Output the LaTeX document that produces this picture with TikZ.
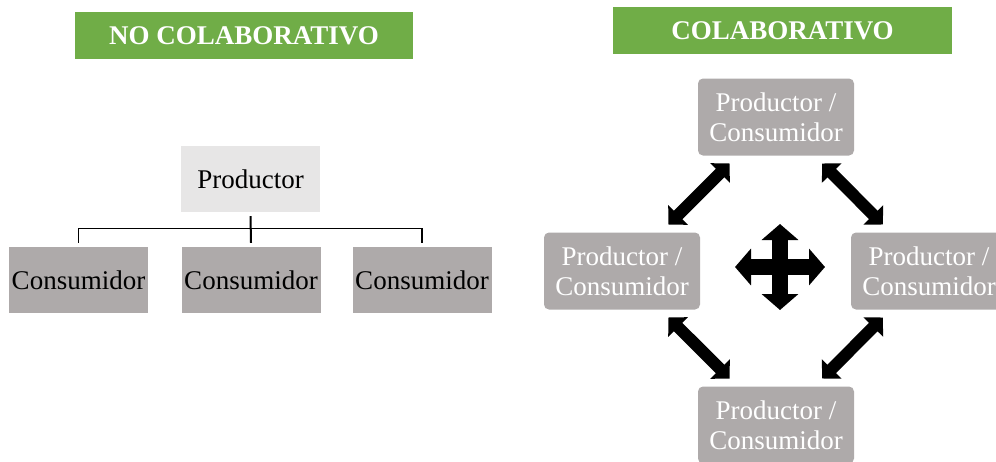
\documentclass[tikz,border=0pt]{standalone}
\usepackage{fontspec}
\setmainfont{Liberation Serif}
\usepackage{tikz}
\usetikzlibrary{arrows.meta,positioning}
\definecolor{verde}{HTML}{70AD47}
\definecolor{grisclaro}{HTML}{E7E6E6}
\definecolor{grisoscuro}{HTML}{AEAAAA}

\begin{document}
\begin{tikzpicture}[x=1pt,y=-1pt,
	titulo/.style={fill=verde, text=white, font=\fontsize{27}{30}\selectfont\bfseries, minimum height=47pt, inner sep=0pt},
	caja/.style={fill=grisoscuro, minimum width=139pt, minimum height=66pt, inner sep=0pt, font=\fontsize{27}{30}\selectfont},
	pc/.style={fill=grisoscuro, rounded corners=5pt, text=white, minimum width=156pt, minimum height=77pt, inner sep=0pt, align=center, font=\fontsize{27}{30}\selectfont},
	flecha/.style={line width=12pt, {Triangle[length=13.5pt,width=27pt]}-{Triangle[length=13.5pt,width=27pt]}, shorten <=11pt, shorten >=11pt},
	cruz/.style={line width=16pt, {Triangle[length=16pt,width=36pt]}-{Triangle[length=16pt,width=36pt]}}]
	\useasboundingbox (0,0) rectangle (996,461);

	% no colaborativo
	\node[titulo, minimum width=338pt] (hno) at (244,35.5) {NO COLABORATIVO};
	\node[caja, fill=grisclaro] (prod) at (250.5,179) {Productor};
	\node[caja] (c1) at (78.5,280) {Consumidor};
	\node[caja] (c2) at (251,280) {Consumidor};
	\node[caja] (c3) at (422,280) {Consumidor};
	\draw[line width=1.2pt] ([yshift=4pt]c1.north) |- ([yshift=18pt]c2.north) -| ([yshift=4pt]c3.north);
	\draw[line width=2pt] ([yshift=-4pt]prod.south) -- ([yshift=4pt]c2.north);

	% colaborativo
	\node[titulo, minimum width=339pt] (hcol) at (782.5,30.5) {COLABORATIVO};
	\node[pc] (pt) at (776,117) {Productor /\\Consumidor};
	\node[pc] (pl) at (622,271) {Productor /\\Consumidor};
	\node[pc] (pr) at (929,271) {Productor /\\Consumidor};
	\node[pc] (pb) at (776,425) {Productor /\\Consumidor};
	\draw[flecha] (pl) -- (pt);
	\draw[flecha] (pt) -- (pr);
	\draw[flecha] (pl) -- (pb);
	\draw[flecha] (pr) -- (pb);

	\coordinate (mid) at (780,267);
	\draw[cruz] ([xshift=-45pt]mid) -- ([xshift=45pt]mid);
	\draw[cruz] ([yshift=43pt]mid) -- ([yshift=-43pt]mid);
\end{tikzpicture}
\end{document}
